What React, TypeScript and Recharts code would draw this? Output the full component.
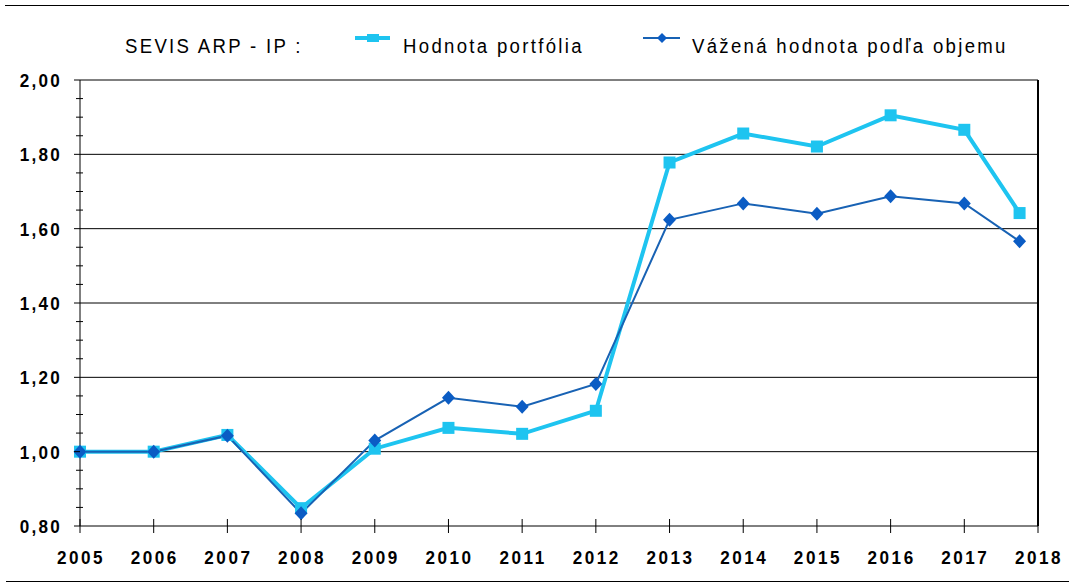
import React from 'react';
import { LineChart, Line, XAxis, YAxis, ReferenceLine } from 'recharts';

// the last point sits about 3/4 of the way into the 2017-2018 interval
const years = [2005, 2006, 2007, 2008, 2009, 2010, 2011, 2012, 2013, 2014, 2015, 2016, 2017, 2017.75];
const portfolio = [1.0, 1.0, 1.045, 0.848, 1.008, 1.064, 1.048, 1.11, 1.778, 1.856, 1.821, 1.905, 1.866, 1.642];
const weighted = [1.0, 1.0, 1.043, 0.834, 1.03, 1.145, 1.121, 1.182, 1.624, 1.668, 1.64, 1.687, 1.668, 1.566];

const xTicks = [2005, 2006, 2007, 2008, 2009, 2010, 2011, 2012, 2013, 2014, 2015, 2016, 2017, 2018];
const yTicks = [
    0.8, 0.85, 0.9, 0.95, 1.0, 1.05, 1.1, 1.15, 1.2, 1.25, 1.3, 1.35, 1.4,
    1.45, 1.5, 1.55, 1.6, 1.65, 1.7, 1.75, 1.8, 1.85, 1.9, 1.95, 2.0,
];
const gridValues = [1.0, 1.2, 1.4, 1.6, 1.8];

const data = years.map((year, i) => ({ year, portfolio: portfolio[i], weighted: weighted[i] }));

const LIGHT = '#1ec4f0';
const DARK = '#1862b4';
const DARK_MARK = '#0b5cc4';
const font = '"Liberation Sans", Arial, sans-serif';

const isMajor = (v: number) => Math.abs(v * 5 - Math.round(v * 5)) < 1e-6;

const YTick = (props: any) => {
    const { x, y, payload } = props;
    const v = payload.value as number;
    const major = isMajor(v);
    return (
        <g>
            <line x1={major ? x - 6 : x - 4} x2={major ? x : x + 3} y1={y} y2={y} stroke="#000" strokeWidth={1} />
            {major && (
                <text
                    transform={`translate(${x - 18},${y + 7}) scale(0.9,1)`}
                    textAnchor="end"
                    fontFamily={font}
                    fontWeight="bold"
                    fontSize={19}
                    letterSpacing={2.5}
                    fill="#000"
                >
                    {v.toFixed(2).replace('.', ',')}
                </text>
            )}
        </g>
    );
};

const XTick = (props: any) => {
    const { x, y, payload } = props;
    return (
        <g>
            <line x1={x} x2={x} y1={y - 7} y2={y + 7} stroke="#000" strokeWidth={1} />
            <text
                transform={`translate(${x + 1},${y + 38}) scale(0.9,1)`}
                textAnchor="middle"
                fontFamily={font}
                fontWeight="bold"
                fontSize={19}
                letterSpacing={2.8}
                fill="#000"
            >
                {payload.value}
            </text>
        </g>
    );
};

const SquareDot = (props: any) => {
    const { cx, cy, index } = props;
    return <rect key={`sq-${index}`} x={cx - 6} y={cy - 6} width={12} height={12} fill={LIGHT} />;
};

const DiamondDot = (props: any) => {
    const { cx, cy, index } = props;
    return (
        <polygon
            key={`dm-${index}`}
            points={`${cx},${cy - 7} ${cx + 6.5},${cy} ${cx},${cy + 7} ${cx - 6.5},${cy}`}
            fill={DARK_MARK}
        />
    );
};

const LegendText = ({ x, children }: { x: number; children: React.ReactNode }) => (
    <text
        transform={`translate(${x},53) scale(0.886,1)`}
        fontFamily={font}
        fontSize={21}
        letterSpacing={2.6}
        fill="#000"
    >
        {children}
    </text>
);

const ChartLegend = () => (
    <svg style={{ position: 'absolute', left: 0, top: 0 }} width={1069} height={70}>
        <LegendText x={125}>SEVIS ARP - IP :</LegendText>
        <line x1={355} x2={390} y1={38} y2={38} stroke={LIGHT} strokeWidth={4} />
        <rect x={367} y={34} width={12} height={8} fill={LIGHT} />
        <LegendText x={403}>Hodnota portfólia</LegendText>
        <line x1={643} x2={680} y1={38} y2={38} stroke={DARK} strokeWidth={2} />
        <polygon points="662,33 667,38 662,43 657,38" fill={DARK_MARK} />
        <LegendText x={692}>Vážená hodnota podľa objemu</LegendText>
    </svg>
);

const App: React.FC = () => {
    return (
        <div style={{ position: 'absolute', left: 0, top: 0, width: 1069, height: 588, background: '#fff' }}>
            <div style={{ position: 'absolute', left: 5, right: 0, top: 5, borderTop: '1.5px solid #000' }} />
            <div style={{ position: 'absolute', left: 6, right: 0, top: 581, borderTop: '1.5px solid #000' }} />
            <ChartLegend />
            <LineChart
                width={1069}
                height={588}
                data={data}
                margin={{ top: 80, right: 31, left: 0, bottom: 0 }}
                style={{ position: 'absolute', left: 0, top: 0 }}
            >
                <XAxis
                    dataKey="year"
                    type="number"
                    domain={[2005, 2018]}
                    ticks={xTicks}
                    height={62}
                    tickSize={0}
                    tickMargin={0}
                    tickLine={false}
                    tick={<XTick />}
                    axisLine={{ stroke: '#000', strokeWidth: 1 }}
                    interval={0}
                />
                <YAxis
                    type="number"
                    domain={[0.8, 2.0]}
                    ticks={yTicks}
                    width={80}
                    tickSize={0}
                    tickMargin={0}
                    tickLine={false}
                    tick={<YTick />}
                    axisLine={{ stroke: '#000', strokeWidth: 1 }}
                    interval={0}
                />
                {gridValues.map((v) => (
                    <ReferenceLine key={v} y={v} stroke="#000" strokeWidth={1} />
                ))}
                <ReferenceLine y={2.0} stroke="#000" strokeWidth={1} />
                <ReferenceLine x={2018} stroke="#000" strokeWidth={2} />
                <Line
                    type="linear"
                    dataKey="portfolio"
                    stroke={LIGHT}
                    strokeWidth={4}
                    dot={<SquareDot />}
                    activeDot={false}
                    isAnimationActive={false}
                />
                <Line
                    type="linear"
                    dataKey="weighted"
                    stroke={DARK}
                    strokeWidth={2}
                    dot={<DiamondDot />}
                    activeDot={false}
                    isAnimationActive={false}
                />
            </LineChart>
        </div>
    );
};

export default App;
